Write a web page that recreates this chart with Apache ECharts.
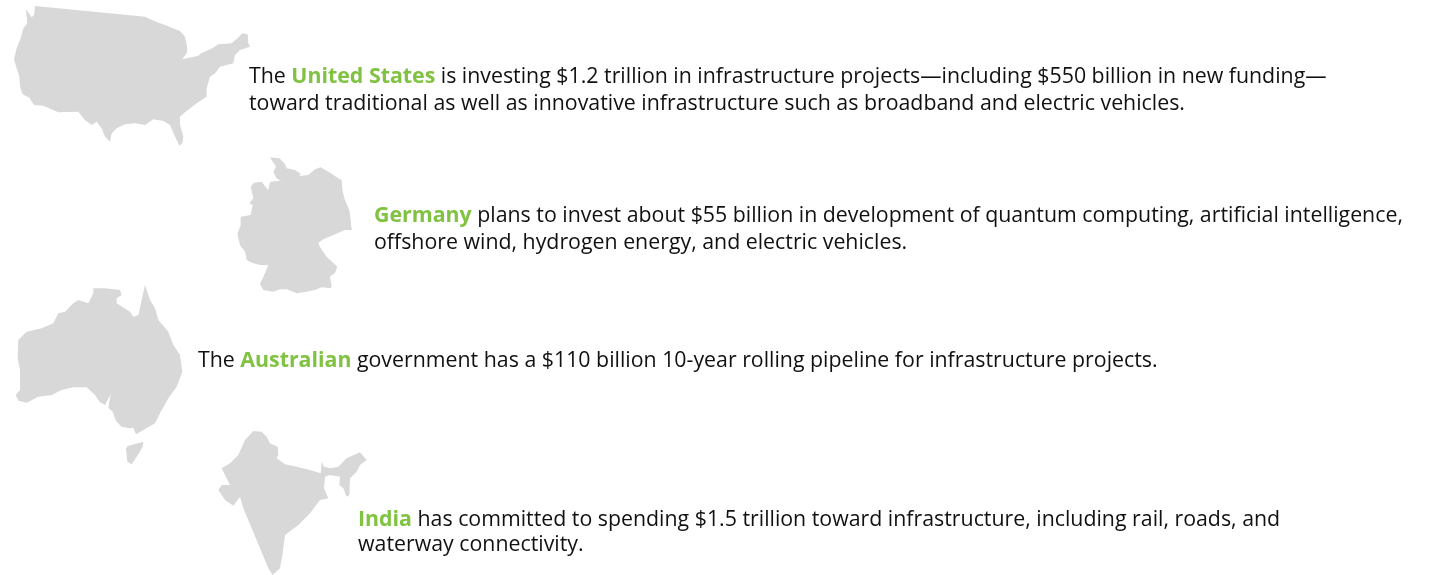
<!DOCTYPE html>
<html>
<head>
<meta charset="utf-8">
<title>Infrastructure investment</title>
<script src="https://cdn.jsdelivr.net/npm/echarts@6/dist/echarts.min.js"></script>
<style>
  html, body { margin: 0; padding: 0; background: #fff; }
  #chart { width: 1430px; height: 575px; }
</style>
</head>
<body>
<div id="chart"></div>
<script>
// Country names and the amounts named in the text, in billions of dollars
const countries = ['United States', 'Germany', 'Australia', 'India'];
const investmentBillions = [1200, 55, 110, 1500];

// Text lines, {g|...} marks the green bold country name
const usLines = [
  'The {g|United States} is investing $1.2 trillion in infrastructure projects—including $550 billion in new funding—',
  'toward traditional as well as innovative infrastructure such as broadband and electric vehicles.'
];
const germanyLines = [
  '{g|Germany} plans to invest about $55 billion in development of quantum computing, artificial intelligence,',
  'offshore wind, hydrogen energy, and electric vehicles.'
];
const australiaLines = [
  'The {g|Australian} government has a $110 billion 10-year rolling pipeline for infrastructure projects.'
];
const indiaLines = [
  '{g|India} has committed to spending $1.5 trillion toward infrastructure, including rail, roads, and',
  'waterway connectivity.'
];

// Silhouettes, one list per landmass
const usOutline = [[105,18],[405,47],[435,50],[470,66],[495,75],[540,93],[555,110],[562,145],[560,160],[547,178],[595,167],[603,160],[637,145],[655,133],[695,130],[713,115],[727,100],[743,103],[745,130],[750,140],[720,150],[705,165],[700,190],[660,200],[645,220],[630,230],[620,265],[620,290],[590,310],[555,337],[540,350],[540,375],[550,410],[547,430],[538,437],[523,405],[510,375],[490,363],[460,358],[435,375],[405,370],[375,373],[350,385],[335,400],[330,425],[315,410],[305,385],[290,365],[275,375],[255,360],[235,335],[175,337],[130,317],[102,315],[88,293],[68,283],[60,260],[58,228],[50,205],[42,178],[50,145],[62,115],[70,85],[82,70],[78,28],[95,52],[102,45]];
const germanyOutline = [[120,22],[148,25],[165,42],[170,55],[195,60],[212,72],[208,78],[235,75],[255,58],[272,52],[300,68],[325,85],[335,90],[338,125],[345,150],[358,180],[362,210],[365,240],[345,240],[310,255],[280,268],[265,278],[270,292],[290,320],[322,350],[315,368],[300,380],[305,408],[302,415],[275,412],[255,420],[230,425],[200,430],[170,418],[150,418],[130,425],[100,420],[90,402],[105,370],[115,345],[90,345],[65,338],[50,330],[45,305],[30,285],[22,252],[32,225],[32,200],[62,195],[68,165],[58,160],[70,145],[62,110],[72,98],[95,95],[110,115],[115,120],[120,95],[150,92],[170,105],[140,85],[130,65],[138,50]];
const australiaOutline = [[265,25],[300,25],[345,30],[350,45],[335,55],[335,70],[375,95],[385,110],[400,105],[410,60],[420,15],[435,60],[450,85],[460,120],[490,155],[505,195],[525,225],[532,275],[515,320],[490,355],[465,400],[450,430],[415,450],[393,463],[385,443],[373,445],[350,440],[333,423],[323,395],[310,383],[317,343],[300,375],[285,367],[270,345],[245,322],[205,322],[170,330],[140,345],[100,350],[65,368],[40,362],[32,345],[45,330],[45,270],[38,235],[40,180],[65,155],[110,145],[145,130],[160,100],[180,95],[205,70],[220,60],[250,70],[265,40]];
const tasmaniaOutline = [[368,498],[415,485],[413,500],[395,530],[380,553],[367,545],[363,505]];
const indiaOutline = [[130,18],[155,20],[170,35],[180,55],[203,65],[205,90],[200,100],[225,118],[260,125],[300,135],[332,145],[335,110],[342,125],[360,130],[385,125],[410,100],[450,82],[470,105],[450,120],[440,140],[420,160],[418,210],[410,215],[400,190],[388,180],[390,155],[360,150],[345,155],[342,190],[355,220],[330,225],[300,265],[265,300],[225,330],[218,385],[210,430],[188,450],[175,430],[150,370],[125,310],[100,250],[90,215],[70,242],[45,225],[25,195],[35,180],[60,180],[35,130],[60,115],[85,90],[105,45]];

const GREY = '#d8d8d8';
const GREEN = '#80c241';
const TRACE_SCALE = 3; // outlines were traced on crops zoomed 3x

// rings per country and where the traced crop sits on the page
const shapes = [
  { rings: [usOutline], originX: 0, originY: 0 },
  { rings: [germanyOutline], originX: 230, originY: 150 },
  { rings: [australiaOutline, tasmaniaOutline], originX: 5, originY: 280 },
  { rings: [indiaOutline], originX: 210, originY: 425 }
];

const textBlocks = [
  { lines: usLines, x: 249, y: 77, step: 27 },
  { lines: germanyLines, x: 374, y: 216, step: 27 },
  { lines: australiaLines, x: 198, y: 361, step: 27 },
  { lines: indiaLines, x: 358, y: 520, step: 25 }
];

// Traced y runs down the page, map latitude runs up
const toFeature = (name, rings) => ({
  type: 'Feature',
  properties: { name },
  geometry: {
    type: 'MultiPolygon',
    coordinates: rings.map(ring => {
      const closed = ring.concat([ring[0]]);
      return [closed.map(p => [p[0], -p[1]])];
    })
  }
});

const series = countries.map((name, i) => {
  const { rings, originX, originY } = shapes[i];
  echarts.registerMap(name, { type: 'FeatureCollection', features: [toFeature(name, rings)] });
  const xs = rings.flat().map(p => p[0]);
  const ys = rings.flat().map(p => p[1]);
  const minX = Math.min(...xs), maxX = Math.max(...xs);
  const minY = Math.min(...ys), maxY = Math.max(...ys);
  return {
    type: 'map',
    map: name,
    silent: true,
    roam: false,
    aspectScale: 1,
    showLegendSymbol: false,
    left: originX + minX / TRACE_SCALE,
    top: originY + minY / TRACE_SCALE,
    width: (maxX - minX) / TRACE_SCALE,
    height: (maxY - minY) / TRACE_SCALE,
    label: { show: false },
    itemStyle: { areaColor: GREY, borderWidth: 0 },
    emphasis: { disabled: true },
    select: { disabled: true },
    data: [{ name, value: investmentBillions[i] }]
  };
});

const FONT_SIZE = 21.33;
const graphic = textBlocks.flatMap(block =>
  block.lines.map((line, n) => ({
    type: 'text',
    silent: true,
    x: block.x,
    y: block.y + n * block.step,
    style: {
      fontFamily: 'Open Sans',
      fontSize: FONT_SIZE,
      fill: '#111',
      text: line,
      verticalAlign: 'middle',
      rich: {
        g: { fontFamily: 'Open Sans', fontSize: FONT_SIZE, fontWeight: 700, fill: GREEN, color: GREEN }
      }
    }
  }))
);

const myChart = echarts.init(document.getElementById('chart'), null, { renderer: 'canvas' });
myChart.setOption({
  animation: false,
  backgroundColor: '#fff',
  tooltip: { show: false },
  series,
  graphic
});
</script>
</body>
</html>
